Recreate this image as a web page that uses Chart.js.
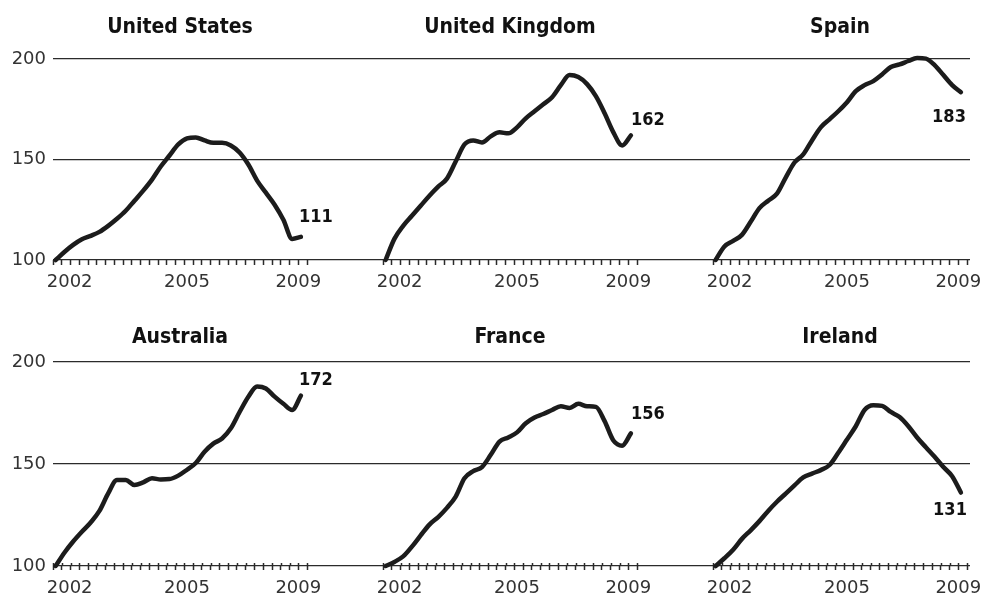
<!DOCTYPE html>
<html lang="en">
<head>
  <meta charset="UTF-8">
  <title>House prices, 2002 = 100</title>
  <script src="https://cdn.jsdelivr.net/npm/chart.js"></script>
  <style>
    body { margin: 0; background: #fff; }
    #wrap { position: relative; width: 982px; height: 597px; }
    #wrap canvas { position: absolute; }
  </style>
</head>
<body>
  <div id="wrap"></div>
  <script>
    // quarterly index, 2002 Q1 = 100, one value per quarter up to 2009 Q1
    const countries = ['United States', 'United Kingdom', 'Spain', 'Australia', 'France', 'Ireland'];
    const usValues = [100, 104, 107.5, 110.3, 112, 114, 117, 120.5, 124.5, 129.5, 134.5, 140, 146.5, 152, 157.5, 160.5, 161, 159.5, 158.3, 158.3, 157, 153.5, 147.5, 139.5, 133.5, 127.5, 120, 110.5, 111.5];
    const ukValues = [100, 110.5, 117, 122, 127, 132, 136.5, 140.5, 149, 157.5, 159.5, 158.5, 161.5, 163.5, 163, 166, 170.5, 174, 177.5, 181, 187, 192, 191, 187.5, 181.5, 173, 163.5, 157, 162];
    const spainValues = [100, 106.7, 109.5, 112.5, 119, 125.8, 129.5, 133, 141, 148.5, 152.5, 159.5, 166, 170, 174, 178.5, 184, 187, 189, 192.3, 196, 197.3, 199, 200.5, 200.2, 197, 192, 187, 183.5];
    const australiaValues = [100, 106.5, 112, 116.8, 121.3, 127, 135.6, 142.2, 142.2, 139.7, 141, 143, 142.4, 142.6, 144.3, 147.2, 150.5, 156, 160, 162.5, 167.5, 175.5, 183, 188, 187, 183, 179.5, 176.5, 183.5];
    const franceValues = [100, 102, 104.7, 109.5, 115, 120.3, 124, 128.5, 134, 143, 146.5, 148.5, 154.5, 161, 163, 165.5, 170, 172.8, 174.5, 176.5, 178.3, 177.5, 179.5, 178.3, 178, 171, 161.5, 159, 165];
    const irelandValues = [100, 103.8, 108, 113.3, 117.5, 122, 127, 131.5, 135.5, 139.5, 143.4, 145.3, 147, 149.5, 155.5, 162, 168.5, 176.5, 178.8, 178.5, 175.5, 173, 168.5, 163, 158.2, 153.5, 148.5, 144, 136];
    const endLabels = ['111', '162', '183', '172', '156', '131'];
    const yearLabels = ['2002', '2005', '2009'];
    const yearAt = [1.6, 15, 27.7];   // where each year label sits on the quarter axis
    const yTicks = [100, 150, 200];

    const seriesList = [usValues, ukValues, spainValues, australiaValues, franceValues, irelandValues];

    // geometry
    const XMIN = -0.3;      // first tick mark sits just before the 2002 Q1 point
    const TICK_COUNT = 30;  // one mark per quarter
    const UNIT_PX = 8.76;
    const colLeft = [53, 383, 713];
    const colRight = [383, 713, 970];
    const rows = [
      { top: 0, height: 300, padTop: 59, axisH: 40, titleY: 33, tickUp: 0, tickLen: 5, labelPad: 7 },
      { top: 300, height: 297, padTop: 62, axisH: 31, titleY: 43, tickUp: 3, tickLen: 4, labelPad: 8 }
    ];
    // where each closing value goes relative to the last point
    const labelPlace = [
      { align: 'left', dx: -2, dy: -20 },
      { align: 'left', dx: 0, dy: -15 },
      { align: 'right', dx: 5, dy: 25 },
      { align: 'left', dx: -2, dy: -15 },
      { align: 'left', dx: 0, dy: -19 },
      { align: 'right', dx: 6, dy: 18 }
    ];

    const INK = '#1c1c1c';
    const RULE = '#2b2b2b';

    // upper half of the crossing ticks on the lower row
    const tickUp = {
      id: 'tickUp',
      beforeDatasetsDraw(chart, args, opts) {
        if (!opts.length) return;
        const { ctx, chartArea } = chart;
        const x = chart.scales.x;
        ctx.save();
        ctx.strokeStyle = RULE;
        ctx.lineWidth = 1.5;
        x.ticks.forEach(t => {
          if (t.year) return;
          const px = Math.round(x.getPixelForValue(t.value)) + 0.5;
          ctx.beginPath();
          ctx.moveTo(px, chartArea.bottom - opts.length);
          ctx.lineTo(px, chartArea.bottom);
          ctx.stroke();
        });
        ctx.restore();
      }
    };

    // panel title and closing value
    const panelText = {
      id: 'panelText',
      afterDatasetsDraw(chart, args, o) {
        const { ctx } = chart;
        const x = chart.scales.x;
        const mid = (x.getPixelForValue(XMIN) + x.getPixelForValue(XMIN + TICK_COUNT - 1)) / 2;
        ctx.save();
        ctx.fillStyle = '#111';
        ctx.font = 'bold 21px "DejaVu Sans Condensed"';
        ctx.textAlign = 'center';
        ctx.textBaseline = 'alphabetic';
        ctx.fillText(o.title, mid, o.titleY);

        const pts = chart.getDatasetMeta(0).data;
        const last = pts[pts.length - 1];
        ctx.font = 'bold 18px "DejaVu Sans Condensed"';
        ctx.textAlign = o.place.align;
        ctx.textBaseline = 'middle';
        ctx.fillText(o.label, last.x + o.place.dx, last.y + o.place.dy);
        ctx.restore();
      }
    };

    function quarterTicks(scale) {
      const t = [];
      for (let k = 0; k < TICK_COUNT; k++) t.push({ value: XMIN + k });
      yearAt.forEach((v, j) => t.push({ value: v, year: yearLabels[j] }));
      t.sort((a, b) => a.value - b.value);
      scale.ticks = t;
    }

    const wrap = document.getElementById('wrap');

    seriesList.forEach((values, n) => {
      const col = n % 3;
      const row = rows[Math.floor(n / 3)];
      const padLeft = col === 0 ? 0 : 10;
      const padRight = col === 2 ? 12 : 0;
      const yW = col === 0 ? 53 : 0;
      const left = colLeft[col] - yW - padLeft;
      const width = colRight[col] + padRight - left;
      const areaW = colRight[col] - colLeft[col];

      const canvas = document.createElement('canvas');
      canvas.width = width;
      canvas.height = row.height;
      canvas.style.left = left + 'px';
      canvas.style.top = row.top + 'px';
      wrap.appendChild(canvas);

      new Chart(canvas.getContext('2d'), {
        type: 'line',
        data: {
          datasets: [{
            data: values.map((v, i) => ({ x: i, y: v })),
            borderColor: INK,
            borderWidth: 4.5,
            borderCapStyle: 'round',
            borderJoinStyle: 'round',
            pointRadius: 0,
            tension: 0.4,
            cubicInterpolationMode: 'monotone',
            clip: false
          }]
        },
        options: {
          responsive: false,
          animation: false,
          devicePixelRatio: 1,
          layout: { padding: { left: padLeft, right: padRight, top: row.padTop, bottom: 0 } },
          plugins: {
            legend: { display: false },
            tooltip: { enabled: false },
            tickUp: { length: row.tickUp },
            panelText: { title: countries[n], label: endLabels[n], place: labelPlace[n], titleY: row.titleY }
          },
          scales: {
            x: {
              type: 'linear',
              bounds: 'data',
              min: XMIN,
              max: XMIN + areaW / UNIT_PX,
              afterBuildTicks: quarterTicks,
              afterFit: s => { s.height = row.axisH; },
              border: { display: false },
              grid: {
                drawOnChartArea: false,
                drawTicks: true,
                tickLength: row.tickLen,
                tickWidth: 1.5,
                tickColor: c => (c.tick && c.tick.year) ? 'rgba(0,0,0,0)' : RULE
              },
              ticks: {
                autoSkip: false,
                maxRotation: 0,
                minRotation: 0,
                padding: row.labelPad,
                color: '#333',
                font: { family: 'DejaVu Sans', size: 18 },
                callback: (v, i, ticks) => ticks[i].year || ''
              }
            },
            y: {
              min: yTicks[0],
              max: yTicks[yTicks.length - 1],
              afterBuildTicks: s => { s.ticks = yTicks.map(v => ({ value: v })); },
              afterFit: s => { s.width = yW; },
              border: { display: false },
              grid: { color: RULE, lineWidth: 1.2, drawTicks: false },
              ticks: {
                display: col === 0,
                padding: 7,
                color: '#333',
                font: { family: 'DejaVu Sans', size: 18 }
              }
            }
          }
        },
        plugins: [tickUp, panelText]
      });
    });
  </script>
</body>
</html>
